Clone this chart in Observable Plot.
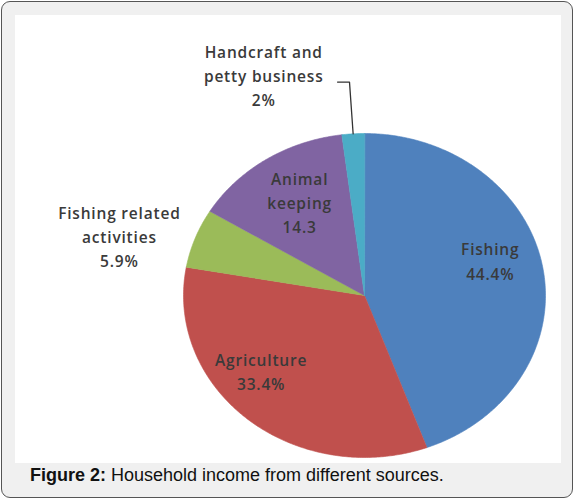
<!DOCTYPE html>
<html>
<head>
<meta charset="utf-8">
<script src="https://cdn.jsdelivr.net/npm/d3@7"></script>
<script src="https://cdn.jsdelivr.net/npm/@observablehq/plot@0.6"></script>
<style>
  body { margin: 0; background: #fff; }
  #frame {
    position: relative; width: 572px; height: 497px; margin: 1px 0 0 1px;
    border: 1.5px solid #555; border-radius: 9px; background: #f0f0f0;
    box-sizing: border-box; overflow: hidden;
  }
  #chart { position: absolute; left: 13px; top: 13px; width: 546px; height: 448px; background: #fff; }
  #caption {
    position: absolute; left: 28px; top: 463px;
    font-family: "Liberation Sans", Arial, sans-serif; font-size: 18px; color: #111;
  }
  #chart text { letter-spacing: 0.8px; }
</style>
</head>
<body>
<div id="frame">
  <div id="chart"></div>
  <div id="caption"><b>Figure 2:</b> Household income from different sources.</div>
</div>
<script>
// income sources, clockwise from 12 o'clock
const sources = ["Fishing", "Agriculture", "Fishing related activities", "Animal keeping", "Handcraft and petty business"];
const shares = [44.4, 33.4, 5.9, 14.3, 2];
const shareLabels = ["44.4%", "33.4%", "5.9%", "14.3", "2%"];
const labelLines = ["Fishing", "Agriculture", "Fishing related\nactivities", "Animal\nkeeping", "Handcraft and\npetty business"];
const colors = ["#4f81bd", "#c0504d", "#9bbb59", "#8064a2", "#4bacc6"];

// label placement: radius factor along slice mid-angle, then a pixel nudge
const labelPlace = [
  {r: 0.7, dx: 1, dy: -16},
  {r: 0.7, dx: -22, dy: -12},
  {r: 1.3, dx: -25, dy: 14},
  {r: 0.7, dx: 4, dy: 1},
  {r: 1.3, dx: -86, dy: -11}
];

const arcs = d3.pie().sort(null).value(d => d.share)(
  sources.map((name, i) => ({name, share: shares[i]}))
);

// slice outlines in unit-circle space (x = sin a, y = -cos a)
const slicePts = [];
arcs.forEach(a => {
  const n = Math.max(4, Math.ceil((a.endAngle - a.startAngle) / 0.01));
  slicePts.push({name: a.data.name, x: 0, y: 0});
  for (let k = 0; k <= n; k++) {
    const t = a.startAngle + (a.endAngle - a.startAngle) * k / n;
    slicePts.push({name: a.data.name, x: Math.sin(t), y: -Math.cos(t)});
  }
});

const mid = a => (a.startAngle + a.endAngle) / 2;
const labels = arcs.map((a, i) => ({
  text: labelLines[i] + "\n" + shareLabels[i],
  x: labelPlace[i].r * Math.sin(mid(a)),
  y: -labelPlace[i].r * Math.cos(mid(a)),
  dx: labelPlace[i].dx,
  dy: labelPlace[i].dy
}));

// leader line for the small Handcraft slice
const hc = arcs[4];
const leader = [
  {x: Math.sin(mid(hc)), y: -Math.cos(mid(hc))},
  {x: 1.32 * Math.sin(mid(hc)), y: -1.32 * Math.cos(mid(hc))},
  {x: 1.32 * Math.sin(mid(hc)) - 0.066, y: -1.32 * Math.cos(mid(hc))}
];

const chart = Plot.plot({
  width: 546,
  height: 448,
  margin: 0,
  x: {domain: [-1, 1], range: [168, 530], axis: null},
  y: {domain: [-1, 1], range: [118, 442], axis: null},
  color: {domain: sources, range: colors},
  style: {fontFamily: "'Open Sans', sans-serif", background: "white"},
  marks: [
    Plot.line(slicePts, {x: "x", y: "y", z: "name", fill: "name", stroke: "name", strokeWidth: 0.6, curve: "linear-closed"}),
    Plot.line(leader, {x: "x", y: "y", stroke: "#333", strokeWidth: 1.3}),
    ...labels.map(l => Plot.text([l], {
      x: "x", y: "y", text: "text", dx: l.dx, dy: l.dy,
      fontSize: 15.5, fontWeight: 600, fill: "#3a3a3a", lineHeight: 1.57,
      textAnchor: "middle"
    }))
  ]
});

document.getElementById("chart").append(chart);
</script>
</body>
</html>
